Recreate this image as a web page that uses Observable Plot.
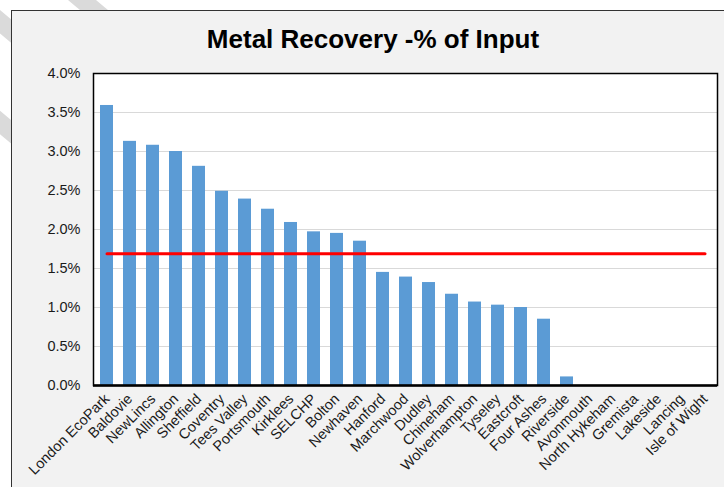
<!DOCTYPE html>
<html>
<head>
<meta charset="utf-8">
<script src="https://cdn.jsdelivr.net/npm/d3@7"></script>
<script src="https://cdn.jsdelivr.net/npm/@observablehq/plot@0.6"></script>
<style>
  html, body { margin: 0; padding: 0; background: #fff; width: 724px; height: 487px; overflow: hidden; }
  .wm { position: absolute; top: 0; width: 18px; height: 900px; background: #dadada; transform-origin: 0 0; transform: rotate(-50deg); }
  #box { position: absolute; left: 11px; top: 10px; width: 760px; height: 520px; background: #f2f2f2; border-left: 1px solid #333; border-top: 1px solid #333; }
  #title { position: absolute; left: 0; width: 746px; top: 24px; text-align: center; font: bold 26px "Liberation Sans", Arial, sans-serif; color: #000; line-height: 30px; }
  #chart { position: absolute; left: 0; top: 0; }
</style>
</head>
<body>
<div class="wm" style="left:68px"></div>
<div class="wm" style="left:-40px"></div>
<div class="wm" style="left:-160px"></div>
<div id="box"></div>
<div id="title">Metal Recovery -% of Input</div>
<div id="chart"></div>
<script>
const plants = ["London EcoPark","Baldovie","NewLincs","Allington","Sheffield","Coventry","Tees Valley","Portsmouth","Kirklees","SELCHP","Bolton","Newhaven","Hanford","Marchwood","Dudley","Chineham","Wolverhampton","Tyseley","Eastcroft","Four Ashes","Riverside","Avonmouth","North Hykeham","Gremista","Lakeside","Lancing","Isle of Wight"];
const recovery = [0.0359,0.0313,0.0308,0.0300,0.0281,0.0249,0.0239,0.0226,0.0209,0.0197,0.0195,0.0185,0.0145,0.0139,0.0132,0.0117,0.0107,0.0103,0.0100,0.0085,0.0011,0,0,0,0,0,0];
const average = 0.0169;
const yTicks = [0,0.005,0.01,0.015,0.02,0.025,0.03,0.035,0.04];

const data = plants.map((p, i) => ({plant: p, value: recovery[i]}));

const chart = Plot.plot({
  width: 724,
  height: 487,
  marginLeft: 93,
  marginRight: 7,
  marginTop: 73,
  marginBottom: 102,
  style: {background: "transparent", fontFamily: "'Liberation Sans', Arial, sans-serif", fontSize: "14px", color: "#1a1a1a", overflow: "visible"},
  x: {domain: plants, paddingInner: 0.455, paddingOuter: 0.2275, label: null},
  y: {domain: [0, 0.04], label: null},
  marks: [
    Plot.frame({fill: "white", stroke: null}),
    Plot.ruleY(yTicks.slice(1, -1), {stroke: "#d9d9d9", strokeWidth: 1}),
    Plot.barY(data, {x: "plant", y: "value", fill: "#5b9bd5"}),
    Plot.lineY(plants, {x: d => d, y: () => average, stroke: "#ff0000", strokeWidth: 3}),
    Plot.frame({stroke: "#000", strokeWidth: 1.5}),
    Plot.ruleY([0], {stroke: "#000", strokeWidth: 2.5}),
    Plot.axisY({ticks: yTicks, tickFormat: d3.format(".1%"), tickSize: 0, tickPadding: 13, label: null, fontSize: 14.5}),
    Plot.axisX({tickRotate: -45, tickSize: 0, tickPadding: 11, label: null, fontSize: 14.5})
  ]
});
document.getElementById("chart").appendChild(chart);
</script>
</body>
</html>
